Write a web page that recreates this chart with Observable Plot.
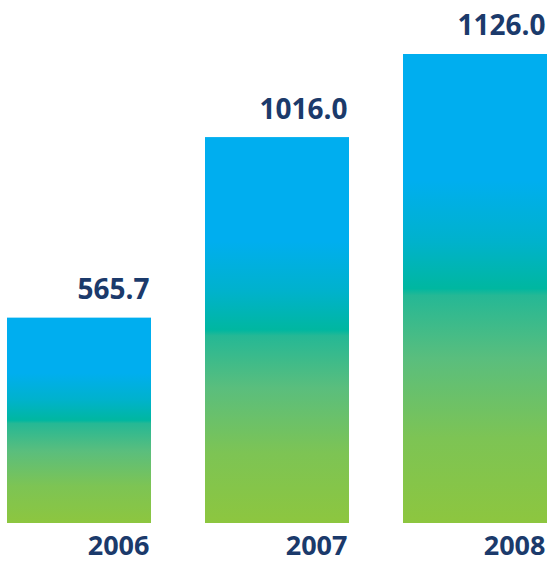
<!DOCTYPE html>
<html>
<head>
<meta charset="utf-8">
<script src="https://cdn.jsdelivr.net/npm/d3@7"></script>
<script src="https://cdn.jsdelivr.net/npm/@observablehq/plot@0.6"></script>
<style>
  html, body { margin: 0; padding: 0; background: #fff; }
</style>
</head>
<body>
<div id="chart"></div>
<script>
const years = ["2006", "2007", "2008"];
const values = [565.7, 1016.0, 1126.0];
const yBase = -951;
const data = years.map((year, i) => ({year, value: values[i]}));

const navy = "#1b3a6b";

const chart = Plot.plot({
  width: 555,
  height: 563,
  marginTop: 54,
  marginBottom: 40,
  marginLeft: 7,
  marginRight: 8,
  style: {fontFamily: "'Open Sans', sans-serif", background: "#fff"},
  x: {domain: years, paddingInner: 0.273, paddingOuter: 0},
  y: {type: "pow", exponent: 3.2, domain: [yBase, 1126], axis: null},
  marks: [
    Plot.barY(data, {x: "year", y1: yBase, y2: "value", fill: "url(#barGrad)"}),
    Plot.text(data, {
      x: "year", y: "value", text: d => d.value.toFixed(1),
      textAnchor: "end", dx: 70, dy: -28,
      fontSize: 28, fontWeight: 700, fill: navy
    }),
    Plot.axisX({
      tickSize: 0, tickPadding: 12, label: null,
      fontSize: 27, fontWeight: 700, fill: navy,
      textAnchor: "end", dx: 70
    })
  ]
});

const svg = d3.select(chart);
const grad = svg.insert("defs", ":first-child")
  .append("linearGradient")
  .attr("id", "barGrad")
  .attr("x1", 0).attr("y1", 0).attr("x2", 0).attr("y2", 1);
[
  [0, "#00aeef"],
  [0.27, "#00aeef"],
  [0.40, "#00b2cc"],
  [0.50, "#00b7a0"],
  [0.515, "#25b895"],
  [0.65, "#5abe7d"],
  [0.82, "#7dc454"],
  [1, "#8dc63f"]
].forEach(([o, c]) => grad.append("stop").attr("offset", o).attr("stop-color", c));

document.getElementById("chart").appendChild(chart);
</script>
</body>
</html>
